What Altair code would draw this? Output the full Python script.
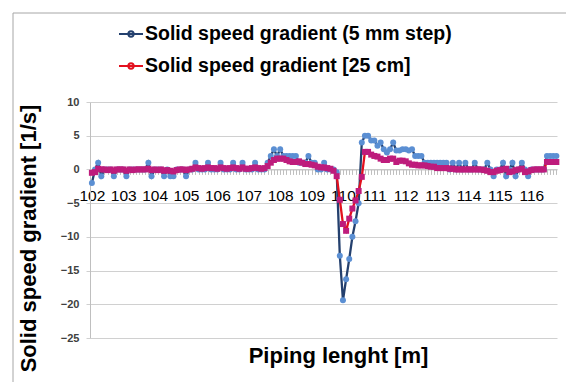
import altair as alt
import pandas as pd

# Category positions along the pipe (m), one every 0.1 m
positions = [round(102 + 0.1 * i, 1) for i in range(149)]

series_names = ["Solid speed gradient (5 mm step)", "Solid speed gradient [25 cm]"]
marker_keys = ["5 mm", "25 cm"]

blue = [
    -2, 0, 1, -1, 0, 0, 0, -1, 0, 0,
    0, -1, 0, 0, 0, 0, 0, 0, 1, -1,
    0, 0, 0, -1, 0, -1, -1, 0, 0, 0,
    -1, 0, 0, 1, 0, 0, 0, 1, 0, 0,
    0, 1, 0, 0, 0, 1, 0, 0, 1, 0,
    0, 0, 1, 0, 0, 0, 1, 2, 3, 2,
    3, 2, 2, 2, 2, 2, 1, 1, 1, 2,
    1, 1, 0, 0, 1, 0, 0, 0, -0.4, -12.8,
    -19.4, -16.3, -13.3, -10, -7.7, -5, 4, 5, 5, 4.3,
    4.3, 3.5, 4, 3, 2.5, 3, 4, 2.8, 2.8, 3,
    3, 2.8, 3, 2, 2, 2, 1, 1, 1, 1,
    1, 1, 1, 1, 0, 1, 0, 1, 0, 1,
    0, 0, 1, 0, 0, 0, 1, 0, -1, 0,
    0, 1, -1, 0, 1, -1, 0, 1, 0, -1,
    0, 0, 0, 0, 0, 2, 2, 2, 2,
]

red = [
    -0.5, -0.4, 0.1, 0, 0, -0.1, 0, -0.2, 0, 0,
    0, -0.2, 0, -0.1, 0, 0, 0, 0, 0.1, -0.1,
    0, -0.1, 0, -0.2, -0.1, -0.2, -0.3, -0.1, 0, 0,
    -0.1, 0, 0.1, 0.3, 0.2, 0.1, 0.2, 0.3, 0.2, 0.2,
    0.1, 0.3, 0.2, 0.1, 0.2, 0.3, 0.2, 0.1, 0.3, 0.1,
    0.1, 0.2, 0.3, 0.2, 0.1, 0.2, 0.5, 1.0, 1.4, 1.6,
    1.6, 1.6, 1.4, 1.2, 1.1, 1.1, 1.2, 1.0, 0.8, 0.8,
    0.7, 0.6, 0.4, 0.3, 0.3, 0.2, 0.1, -0.2, -1.0, -4.5,
    -8.1, -9.1, -7.3, -5.8, -4.6, -3.2, -1.1, 2.6, 2.6, 2.2,
    2.0, 1.9, 1.6, 1.4, 1.4, 1.6, 1.6, 1.1, 1.3, 1.3,
    1.2, 0.9, 0.7, 0.7, 0.6, 0.6, 0.6, 0.5, 0.4, 0.4,
    0.2, 0.2, 0.2, 0.2, 0.1, 0.1, 0, 0, 0, 0,
    0, 0, 0, 0, 0, -0.1, -0.2, -0.4, -0.4, -0.2,
    -0.1, 0, 0.1, -0.4, -0.3, -0.1, 0, 0.1, -0.4, -0.3,
    -0.1, 0, 0, 0, 0, 1.1, 1.1, 1.1, 1.1,
]

y_ticks = [-25, -20, -15, -10, -5, 0, 5, 10]

rows = []
for k, (name, key, vals) in enumerate(zip(series_names, marker_keys, [blue, red])):
    for i, (p, v) in enumerate(zip(positions, vals)):
        rows.append({"x": p, "value": v, "series": name, "mk": key, "s": k, "i": i})
df = pd.DataFrame(rows)

W, H = 467, 236
FONT = "Liberation Sans"

x_enc = alt.X(
    "x:Q",
    scale=alt.Scale(domain=[101.94, 116.82], nice=False, zero=False),
    axis=alt.Axis(
        values=positions,
        labelExpr="abs(datum.value - round(datum.value)) < 0.001 ? format(datum.value, 'd') : ''",
        offset=-(H - H * 10 / 35),
        grid=False,
        tickSize=5,
        tickColor="#BFBFBF",
        domainColor="#BFBFBF",
        labelPadding=14,
        labelFontSize=15.5,
        labelFont=FONT,
        labelColor="#000000",
        labelOverlap=False,
        labelFlush=False,
        title="Piping lenght [m]",
        titleFont=FONT,
        titleFontSize=22,
        titleFontWeight="bold",
        titleColor="#000000",
        titleX=248,
        titleY=186,
        titleBaseline="middle",
        titleAnchor="middle",
    ),
)

y_enc = alt.Y(
    "value:Q",
    scale=alt.Scale(domain=[-25, 10], nice=False),
    axis=alt.Axis(
        values=y_ticks,
        grid=True,
        gridColor="#D0D0D0",
        domainColor="#BFBFBF",
        tickColor="#D0D0D0",
        tickSize=4,
        labelPadding=7,
        labelFont=FONT,
        labelFontSize=11,
        labelFontWeight="bold",
        labelColor="#404040",
        title="Solid speed gradient [1/s]",
        titleFont=FONT,
        titleFontSize=22,
        titleFontWeight="bold",
        titleColor="#000000",
        titleAngle=270,
        titleX=-62,
        titleY=136,
        titleAlign="center",
        titleBaseline="middle",
    ),
)

frame = alt.Chart(pd.DataFrame({"a": [0]})).mark_rect(
    fill="transparent", stroke="#A6A6A6", strokeWidth=1
).encode(
    x=alt.value(-77), x2=alt.value(W + 30), y=alt.value(-89), y2=alt.value(H + 60)
)

sym = "M-1,0H1M-0.22,0A0.22,0.22,0,1,0,0.22,0A0.22,0.22,0,1,0,-0.22,0Z"

lines = alt.Chart(df).mark_line(strokeWidth=2.3).encode(
    x=x_enc,
    y=y_enc,
    color=alt.Color(
        "series:N",
        scale=alt.Scale(domain=series_names, range=["#24406E", "#E3101E"]),
        legend=alt.Legend(
            orient="none",
            legendX=28,
            legendY=-81,
            direction="vertical",
            title=None,
            symbolType=sym,
            symbolSize=576,
            symbolStrokeWidth=2,
            labelFont=FONT,
            labelFontSize=19.5,
            labelFontWeight="bold",
            labelColor="#000000",
            labelLimit=0,
            labelOffset=1,
            rowPadding=9,
            padding=0,
        ),
    ),
    detail="s:N",
    order="i:Q",
)

points = alt.Chart(df).mark_point(filled=True, size=36, opacity=1, strokeWidth=0).encode(
    x=x_enc,
    y=y_enc,
    fill=alt.Fill(
        "mk:N",
        scale=alt.Scale(domain=marker_keys, range=["#5B8FD3", "#BE1C7C"]),
        legend=None,
    ),
    shape=alt.Shape(
        "mk:N",
        scale=alt.Scale(domain=marker_keys, range=["circle", "square"]),
        legend=None,
    ),
    order="s:Q",
)

chart = (
    alt.layer(frame, lines, points)
    .properties(
        width=W,
        height=H,
        autosize=alt.AutoSizeParams(type="none"),
        padding={"left": 90, "top": 102, "right": 9, "bottom": 44},
        background="white",
    )
    .configure_view(stroke=None)
)

chart.save("out.html", embed_options={"renderer": "svg", "actions": False})
